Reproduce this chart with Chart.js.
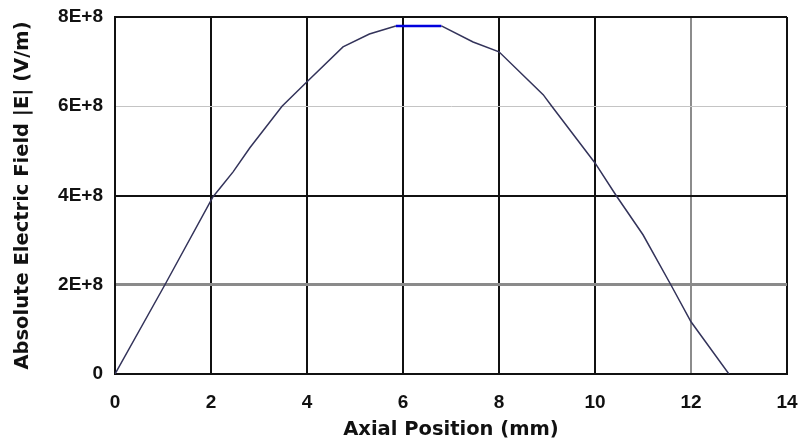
<!DOCTYPE html>
<html lang="en">
<head>
    <meta charset="UTF-8">
    <title>Axial Field Profile</title>
    <style>
        body {
            margin: 0;
            padding: 0;
            background: #fff;
        }

        .chartBox {
            width: 801px;
            height: 445px;
        }
    </style>
</head>
<body>
    <div class="chartBox">
        <canvas id="fieldChart"></canvas>
    </div>

    <script src="https://cdn.jsdelivr.net/npm/chart.js/dist/chart.umd.min.js"></script>
    <script>
        // axial position (mm) and |E| (V/m) along the axis
        const positions = [0, 1.04, 2.04, 2.19, 2.46, 2.81, 3.48, 4.0, 4.75, 5.3, 5.85, 6.8, 7.46, 8.0, 8.92, 9.1, 10.0, 10.44, 11.0, 11.58, 12.0, 12.79]
        const fieldValues = [0, 2.0e8, 3.97e8, 4.17e8, 4.53e8, 5.07e8, 6.0e8, 6.55e8, 7.33e8, 7.62e8, 7.8e8, 7.8e8, 7.44e8, 7.22e8, 6.26e8, 6.0e8, 4.73e8, 4.0e8, 3.12e8, 2.0e8, 1.17e8, 0]
        const xTicks = [0, 2, 4, 6, 8, 10, 12, 14]
        const yTicks = [0, 2e8, 4e8, 6e8, 8e8]

        const peak = Math.max(...fieldValues)

        // grid line look per tick value
        const xGridColors = { 12: '#8c8c8c' }
        const yGridColors = { 200000000: '#8a8a8a', 600000000: '#c4c4c4' }
        const yGridWidths = { 200000000: 3, 600000000: 1 }

        const tickFont = { family: '"Liberation Sans", Arial, sans-serif', size: 19, weight: 'bold' }
        const titleFont = { family: '"DejaVu Sans", Verdana, sans-serif', size: 19.5, weight: 'bold' }

        const data = {
            datasets: [{
                label: '|E|',
                data: positions.map((x, i) => ({ x: x, y: fieldValues[i] })),
                borderColor: '#33335a',
                borderWidth: 1.5,
                pointRadius: 0,
                tension: 0,
                segment: {
                    borderColor: ctx => (ctx.p0.parsed.y === peak && ctx.p1.parsed.y === peak) ? '#0000dd' : undefined,
                    borderWidth: ctx => (ctx.p0.parsed.y === peak && ctx.p1.parsed.y === peak) ? 2.5 : undefined
                }
            }]
        }

        const config = {
            type: 'line',
            data: data,
            options: {
                responsive: true,
                maintainAspectRatio: false,
                animation: false,
                layout: {
                    padding: { top: 17, right: 14, left: 0, bottom: 0 }
                },
                plugins: {
                    legend: { display: false },
                    tooltip: { enabled: false }
                },
                scales: {
                    x: {
                        type: 'linear',
                        min: 0,
                        max: 14,
                        afterBuildTicks: axis => {
                            axis.ticks = xTicks.map(v => ({ value: v }))
                        },
                        afterFit: axis => {
                            axis.height = 71
                            // let the layout padding alone set the plot edges
                            axis.paddingLeft = 0
                            axis.paddingRight = 0
                        },
                        grid: {
                            drawTicks: false,
                            color: ctx => xGridColors[ctx.tick.value] || '#111',
                            lineWidth: 2
                        },
                        border: { display: true, color: '#111', width: 2 },
                        ticks: {
                            padding: 17,
                            color: '#111',
                            font: tickFont,
                            maxRotation: 0
                        },
                        title: {
                            display: true,
                            text: 'Axial Position (mm)',
                            color: '#111',
                            font: titleFont,
                            padding: { top: 0, bottom: 3 }
                        }
                    },
                    y: {
                        type: 'linear',
                        min: 0,
                        max: 8e8,
                        afterBuildTicks: axis => {
                            axis.ticks = yTicks.map(v => ({ value: v }))
                        },
                        afterFit: axis => {
                            axis.width = 115
                            axis.paddingTop = 0
                            axis.paddingBottom = 0
                        },
                        grid: {
                            drawTicks: false,
                            color: ctx => yGridColors[ctx.tick.value] || '#111',
                            lineWidth: ctx => yGridWidths[ctx.tick.value] || 2
                        },
                        border: { display: true, color: '#111', width: 2 },
                        ticks: {
                            padding: 12,
                            color: '#111',
                            font: tickFont,
                            callback: v => v === 0 ? '0' : (v / 1e8) + 'E+8'
                        },
                        title: {
                            display: true,
                            text: 'Absolute Electric Field |E| (V/m)',
                            color: '#111',
                            font: titleFont,
                            padding: { top: 11, bottom: 0 }
                        }
                    }
                }
            }
        }

        const fieldChart = new Chart(
            document.getElementById('fieldChart'),
            config
        )
    </script>
</body>
</html>
